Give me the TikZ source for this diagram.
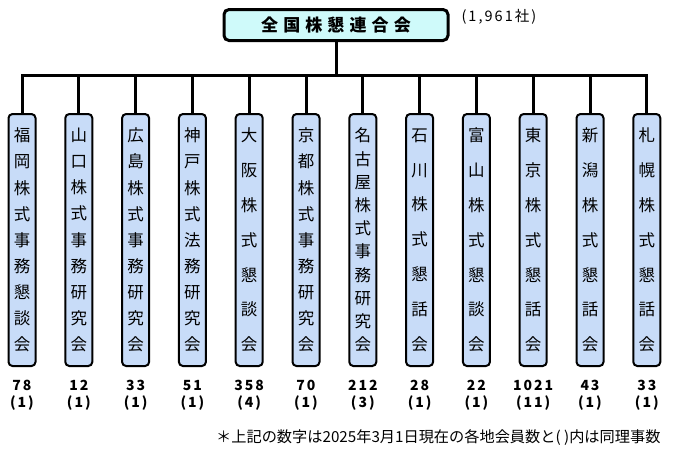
\documentclass[tikz,border=0pt]{standalone}
\usepackage{fontspec}
\setmainfont{Noto Sans CJK JP}
\newfontfamily\jpwide[LetterSpace=30]{Noto Sans CJK JP}
\newfontfamily\numfont[LetterSpace=14]{Noto Sans CJK JP}
\definecolor{zenfill}{HTML}{CFFAFA}
\definecolor{colfill}{HTML}{C8DCF8}
\begin{document}
\begin{tikzpicture}[x=1pt,y=-1pt,
    topbox/.style={draw, line width=3pt, rounded corners=5pt, fill=zenfill,
      minimum width=224pt, minimum height=31pt, inner sep=0pt},
    colbox/.style={draw, line width=2pt, rounded corners=4pt, fill=colfill,
      minimum width=27pt, minimum height=252pt, inner sep=0pt, align=center},
    link/.style={line width=3pt, line cap=rect},
    count/.style={font=\numfont\bfseries\fontsize{14pt}{17pt}\selectfont, align=center, inner sep=0pt}]

        % Page size
        \useasboundingbox (0,0) rectangle (674,459);

        % Head association
        \node[topbox, font=\jpwide\bfseries\fontsize{17pt}{20pt}\selectfont] (zenkoku) at (336,25) {全国株懇連合会};
        \node[anchor=west, font=\numfont\fontsize{14.5pt}{16pt}\selectfont] (members) at (458,17) {(1,961社)};

        % Branch bar
        \coordinate (bar) at (336,75);

        % Local associations
        \foreach \i/\txt/\gap/\num/\riji in {
            1/{福\\岡\\株\\式\\事\\務\\懇\\談\\会}/26.1/78/1,
            2/{山\\口\\株\\式\\事\\務\\研\\究\\会}/26.1/12/1,
            3/{広\\島\\株\\式\\事\\務\\研\\究\\会}/26.1/33/1,
            4/{神\\戸\\株\\式\\法\\務\\研\\究\\会}/26.1/51/1,
            5/{大\\阪\\株\\式\\懇\\談\\会}/34.8/358/4,
            6/{京\\都\\株\\式\\事\\務\\研\\究\\会}/26.1/70/1,
            7/{名\\古\\屋\\株\\式\\事\\務\\研\\究\\会}/23.2/212/3,
            8/{石\\川\\株\\式\\懇\\話\\会}/34.8/28/1,
            9/{富\\山\\株\\式\\懇\\談\\会}/34.8/22/1,
            10/{東\\京\\株\\式\\懇\\話\\会}/34.8/1021/11,
            11/{新\\潟\\株\\式\\懇\\話\\会}/34.8/43/1,
            12/{札\\幌\\株\\式\\懇\\話\\会}/34.8/33/1} {
          \pgfmathsetmacro\x{22+56.8*(\i-1)}
          \node[colbox, font=\fontsize{16.5pt}{\gap pt}\selectfont] (c\i) at (\x,240) {\txt};
          \node[count] (n\i) at (\x,395.5) {\num\\(\riji)};
          \draw[link] (c\i |- bar) -- (c\i.north);
        }

        % Connectors
        \draw[link] (zenkoku) -- (bar);
        \draw[link] (c1 |- bar) -- (c12 |- bar);

        % Footnote
        \node[anchor=east, font=\fontsize{15.2pt}{17pt}\selectfont] (note) at (664,438) {＊上記の数字は2025年3月1日現在の各地会員数と( )内は同理事数};
\end{tikzpicture}
\end{document}
